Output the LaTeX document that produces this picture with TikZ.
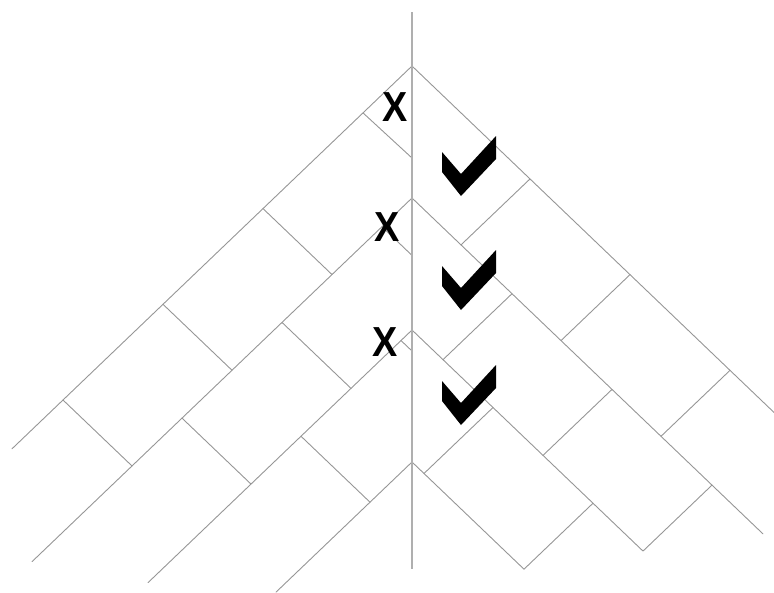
\documentclass[tikz,border=0pt]{standalone}
\usepackage{fontspec}
\setmainfont{Liberation Sans}
\definecolor{brickgray}{RGB}{150,150,150}
\definecolor{axisgray}{RGB}{175,175,175}
\begin{document}
\begin{tikzpicture}[x=1pt,y=-1pt,
  brick/.style={draw=brickgray, line width=0.9pt, line cap=round, line join=round},
  axisline/.style={draw=axisgray, line width=1.4pt},
  cross/.style={font=\fontsize{42}{42}\selectfont\bfseries, inner sep=0pt, xscale=0.9},
  checkmk/.pic={\fill (0,0) -- (-19,-24) -- (-19,-44) -- (0,-22) -- (35,-60) -- (35,-37) -- cycle;}
]
\useasboundingbox (0,0) rectangle (774,592);

% left half: bricks running down-left
\begin{scope}[shift={(412pt,0pt)}, x={(-1pt,-0.957pt)}, y={(0pt,-1pt)}]
  \draw[brick] (0,66) -- (400,66);
  \draw[brick] (49,66) -- (0,158);
  \draw[brick] (149,66) -- (80,198);
  \draw[brick] (249,66) -- (180,198);
  \draw[brick] (349,66) -- (280,198);
  \draw[brick] (0,198) -- (380,198);
  \draw[brick] (30,198) -- (0,255.4);
  \draw[brick] (130,198) -- (61,330);
  \draw[brick] (230,198) -- (161,330);
  \draw[brick] (0,330) -- (264,330);
  \draw[brick] (11,330) -- (0,351);
  \draw[brick] (111,330) -- (42,462);
  \draw[brick] (0,462) -- (136,462);
\end{scope}

% right half: bricks running down-right
\begin{scope}[shift={(412pt,0pt)}, x={(1pt,-0.957pt)}, y={(0pt,-1pt)}]
  \draw[brick] (0,66) -- (362,66);
  \draw[brick] (118,66) -- (49,198);
  \draw[brick] (218,66) -- (149,198);
  \draw[brick] (318,66) -- (249,198);
  \draw[brick] (0,198) -- (351,198);
  \draw[brick] (100,198) -- (31,330);
  \draw[brick] (200,198) -- (131,330);
  \draw[brick] (300,198) -- (231,330) -- (0,330);
  \draw[brick] (81,330) -- (12,462);
  \draw[brick] (181,330) -- (112,462) -- (0,462);
\end{scope}

% centre line
\coordinate (top) at (412,12);
\coordinate (bot) at (412,569);
\draw[axisline] (top) -- (bot);

% marks
\node[cross] (x1) at (395,107) {X};
\node[cross] (x2) at (387,227) {X};
\node[cross] (x3) at (385,342) {X};
\pic (c1) at (461,196) {checkmk};
\pic (c2) at (461,310) {checkmk};
\pic (c3) at (461,425) {checkmk};
\end{tikzpicture}
\end{document}
